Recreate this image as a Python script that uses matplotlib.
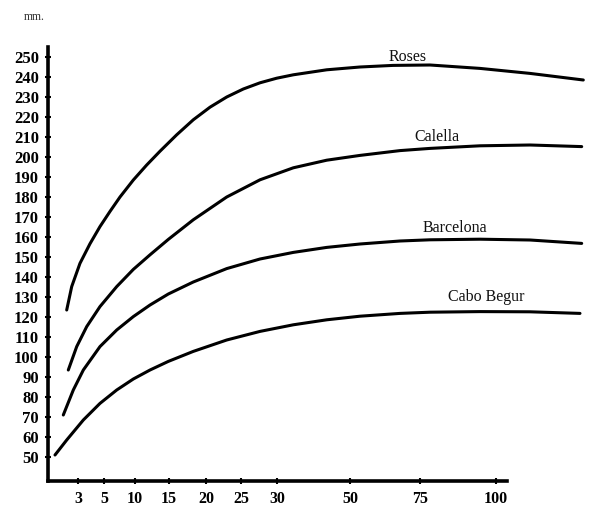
import numpy as np
import matplotlib
matplotlib.use("Agg")
import matplotlib.pyplot as plt

# x-axis tick values and their (irregular) placement along the axis
x_ticks = [3, 5, 10, 15, 20, 25, 30, 50, 75, 100]
scale_vals = [0, 3, 5, 10, 15, 20, 25, 30, 50, 75, 100, 131]
scale_pos = [48, 78, 104, 135, 169, 206, 241, 277, 350, 420, 496, 590]

y_ticks = list(range(50, 260, 10))

roses_x = [1.87, 2.37, 3.15, 3.92, 4.69, 5.97, 7.58, 9.73, 11.72, 13.68, 16.04, 18.28, 20.57,
           22.96, 25.32, 27.64, 29.96, 34.47, 43.62, 53.57, 65.36, 78.29, 94.74, 111.21, 128.79]
roses_y = [123.5, 135.2, 146.8, 156.6, 165.2, 172.8, 180, 188.5, 196, 202.9, 211.1, 218.6, 224.9,
           230, 234, 237.1, 239.4, 241.1, 243.6, 245, 245.8, 246, 244.3, 241.8, 238.5]

calella_x = [2.03, 2.87, 3.67, 4.69, 7.05, 9.73, 12.21, 14.9, 18.28, 22.96, 27.64, 34.47, 43.62,
             53.57, 67.86, 78.29, 94.74, 111.21, 128.26]
calella_y = [93.5, 105.2, 115.2, 125.2, 135.2, 143.8, 151.1, 158.8, 168.6, 180.0, 188.6, 194.6, 198.4,
             200.8, 203.2, 204.3, 205.6, 206, 205.2]

barcelona_x = [1.53, 2.53, 3.41, 4.69, 7.05, 9.73, 12.21, 14.9, 18.28, 22.96, 27.64, 34.47, 43.62,
               53.57, 67.86, 78.29, 94.74, 111.21, 128.26]
barcelona_y = [71, 83.5, 93.5, 105.2, 113.5, 120.2, 126, 131.5, 137.5, 144.2, 149, 152.3, 154.8,
               156.5, 158, 158.6, 158.9, 158.5, 156.8]

begur_x = [0.7, 1.87, 3.41, 4.69, 7.05, 9.73, 12.21, 14.9, 18.28, 22.96, 27.64, 34.47, 43.62,
           53.57, 67.86, 78.29, 94.74, 111.21, 127.7]
begur_y = [51, 58.5, 68.5, 76.8, 83.5, 89.0, 93.5, 97.8, 102.8, 108.5, 112.8, 116.1, 118.6,
           120.4, 121.8, 122.4, 122.7, 122.6, 121.8]

series = [
    ("Roses", roses_x, roses_y, (70.7, 250.0)),
    ("Calella", calella_x, calella_y, (80.5, 209.9)),
    ("Barcelona", barcelona_x, barcelona_y, (86.5, 164.4)),
    ("Cabo Begur", begur_x, begur_y, (96.7, 130.2)),
]

plt.rcParams['font.family'] = ['Liberation Serif', 'DejaVu Serif']

W, H = 592, 511
fig = plt.figure(figsize=(W / 100, H / 100), dpi=100)
ax = fig.add_axes([48 / W, (H - 481) / H, (590 - 48) / W, 434 / H])


def fwd(v):
    return np.interp(v, scale_vals, scale_pos)


def inv(p):
    return np.interp(p, scale_pos, scale_vals)


ax.set_xscale('function', functions=(fwd, inv))
ax.set_xlim(0, 131)
ax.set_ylim(38, 255)

for name, xs, ys, (lx, ly) in series:
    ax.plot(xs, ys, color='black', lw=2.2, solid_capstyle='round', solid_joinstyle='round')
    ax.text(lx, ly, name, ha='center', va='center', fontsize=11.5,
            color='#111111')

ax.set_xticks(x_ticks)
ax.set_xticklabels([str(t) for t in x_ticks])
ax.set_yticks(y_ticks)
ax.set_yticklabels([str(t) for t in y_ticks])
ax.xaxis.set_minor_locator(matplotlib.ticker.NullLocator())

for side in ['top', 'right']:
    ax.spines[side].set_visible(False)
ax.spines['left'].set_linewidth(2.6)
ax.spines['bottom'].set_linewidth(2.6)
ax.spines['bottom'].set_bounds(0, 103.6)

ax.tick_params(axis='both', direction='inout', length=5, width=1.5,
               labelsize=12, colors='black')
ax.tick_params(axis='y', pad=4)
ax.tick_params(axis='x', pad=5, labelsize=11.5)
for lab in ax.get_xticklabels() + ax.get_yticklabels():
    lab.set_fontweight('bold')

fig.text(24 / W, 1 - 17 / H, "mm.", fontsize=8.5, ha='left', va='center', color='#333333')

fig.savefig("out.png", dpi=100)
